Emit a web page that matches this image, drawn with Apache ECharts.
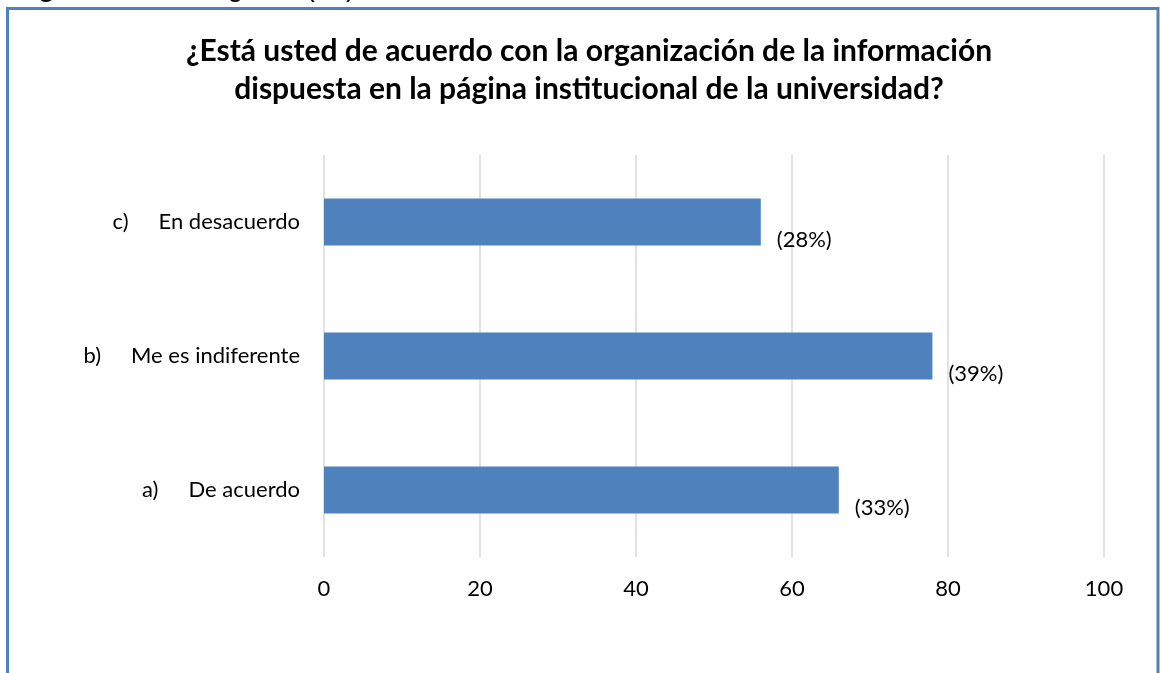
<!DOCTYPE html>
<html>
<head>
<meta charset="utf-8">
<script src="https://cdn.jsdelivr.net/npm/echarts@6/dist/echarts.min.js"></script>
<style>
html,body{margin:0;padding:0;background:#fff;}
#chart{width:1160px;height:673px;}
</style>
</head>
<body>
<div id="chart"></div>
<script>
// Data
const categories = ['a) De acuerdo', 'b) Me es indiferente', 'c) En desacuerdo'];
const values = [66, 78, 56];
const percentLabels = ['(33%)', '(39%)', '(28%)'];
const xTicks = [0, 20, 40, 60, 80, 100];
const titleText = '¿Está usted de acuerdo con la organización de la información\ndispuesta en la página institucional de la universidad?';

const FONT = 'Lato, "Open Sans", sans-serif';
const chart = echarts.init(document.getElementById('chart'), null, {renderer: 'canvas'});

chart.setOption({
  animation: false,
  backgroundColor: '#ffffff',
  title: {
    text: titleText,
    left: 584,
    top: 27,
    textAlign: 'center',
    textStyle: {
      fontFamily: FONT,
      fontWeight: 'bold',
      fontSize: 30,
      lineHeight: 38,
      color: '#000'
    }
  },
  graphic: [
    {
      type: 'rect',
      silent: true,
      shape: {x: 7.5, y: 8.5, width: 1150.5, height: 720},
      style: {fill: 'none', stroke: '#4F81BD', lineWidth: 3}
    },
    {
      type: 'text',
      silent: true,
      x: 13, y: 2,
      style: {text: 'Figura 8.', font: 'bold 28px "Liberation Sans", Arial, sans-serif', fill: '#000', verticalAlign: 'bottom'}
    },
    {
      type: 'text',
      silent: true,
      x: 184, y: 2,
      style: {text: 'Pregunta (13) encuesta.', font: '28px "Liberation Sans", Arial, sans-serif', fill: '#000', verticalAlign: 'bottom'}
    }
  ],
  grid: {left: 324, right: 56, top: 155, bottom: 116, containLabel: false},
  xAxis: {
    type: 'value',
    min: xTicks[0],
    max: xTicks[xTicks.length - 1],
    interval: xTicks[1] - xTicks[0],
    axisLine: {show: false},
    axisTick: {show: false},
    axisLabel: {fontFamily: FONT, fontSize: 22, color: '#000', margin: 21},
    splitLine: {show: true, lineStyle: {color: '#D9D9D9', width: 1.5}}
  },
  yAxis: {
    type: 'category',
    data: categories,
    axisLine: {show: false},
    axisTick: {show: false},
    axisLabel: {
      margin: 24,
      formatter: function (v) {
        const i = v.indexOf(' ');
        return '{l|' + v.slice(0, i) + '}{t|' + v.slice(i + 1) + '}';
      },
      rich: {
        l: {fontFamily: FONT, fontSize: 22, color: '#000', padding: [0, 30, 0, 0]},
        t: {fontFamily: FONT, fontSize: 22, color: '#000'}
      }
    }
  },
  series: [{
    type: 'bar',
    data: values,
    barWidth: '35%',
    itemStyle: {color: '#4F81BD'},
    label: {
      show: true,
      position: 'right',
      distance: 16,
      offset: [0, 18],
      fontFamily: FONT,
      fontSize: 22,
      color: '#000',
      formatter: function (p) { return percentLabels[p.dataIndex]; }
    }
  }]
});
</script>
</body>
</html>
